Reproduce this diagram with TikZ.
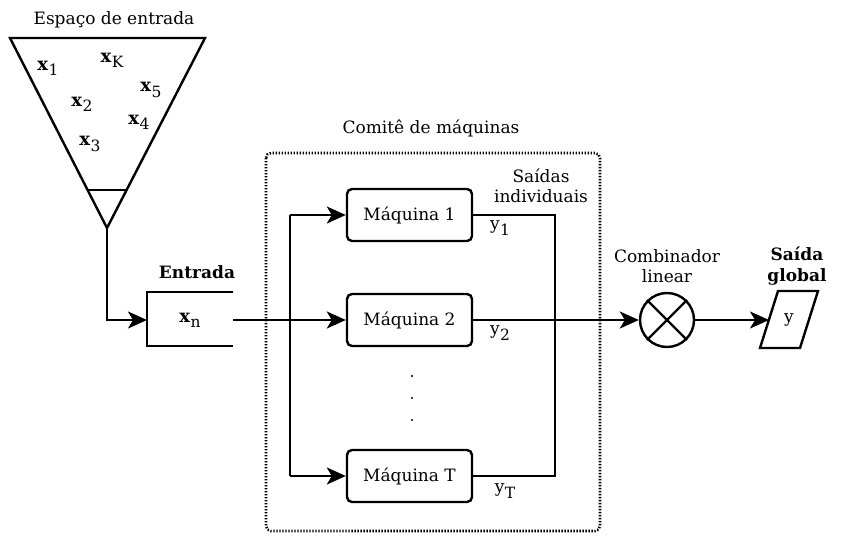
\documentclass[tikz,border=0pt]{standalone}
\usepackage{fontspec}
\setmainfont{DejaVu Serif}
\usetikzlibrary{arrows.meta}
\newcommand{\xv}[1]{{\fontsize{18}{20}\selectfont\textbf{x}}\kern0.5pt\raisebox{-0.6ex}{\fontsize{15.5}{17}\selectfont #1}}
\newcommand{\yv}[1]{y\kern0.5pt\raisebox{-0.6ex}{\fontsize{15.5}{17}\selectfont #1}}
\tikzset{
  lbl/.style={font=\fontsize{17}{20.5}\selectfont, inner sep=0pt},
  mach/.style={draw, line width=2.4pt, rounded corners=5pt, minimum width=125pt, minimum height=52pt, font=\fontsize{17}{20.5}\selectfont, inner sep=0pt},
  wire/.style={line width=2.4pt},
  conn/.style={line width=2.4pt, -{Stealth[length=19pt,width=17pt,inset=5pt]}},
  frame/.style={line width=2.6pt, dash pattern=on 1.4pt off 1.6pt, rounded corners=5pt}
}
\begin{document}
\begin{tikzpicture}[x=1pt,y=-1pt]
\useasboundingbox (0,0) rectangle (848,541);
% input space
\draw[wire, line join=miter] (10,38) -- (205,38) -- (107,228) -- cycle;
\draw[wire] (88,190) -- (126,190);
\coordinate (apex) at (107,228);
\node[lbl] (espaco) at (114,20) {Espaço de entrada};
\node[lbl] (x1) at (48,68) {\xv{1}};
\node[lbl] (xK) at (112,60) {\xv{K}};
\node[lbl] (x5) at (151,90) {\xv{5}};
\node[lbl] (x2) at (82,104) {\xv{2}};
\node[lbl] (x4) at (139,122) {\xv{4}};
\node[lbl] (x3) at (90,144) {\xv{3}};
% entrada
\draw[wire] (233,292) -- (147,292) -- (147,346) -- (233,346);
\coordinate (entL) at (147,320);
\coordinate (entR) at (233,320);
\node[lbl, font=\fontsize{17}{20.5}\selectfont\bfseries] (entrada) at (197,272) {Entrada};
\node[lbl] (xn) at (190,320) {\xv{n}};
\draw[conn] (apex) |- (entL);
% committee
\draw[frame] (266,153) rectangle (600,531);
\node[lbl] (comite) at (431,128) {Comitê de máquinas};
\node[lbl, align=center] (saidas) at (541,186) {Saídas\\individuais};
\node[mach] (m1) at (409.5,215) {Máquina 1};
\node[mach] (m2) at (409.5,320) {Máquina 2};
\node[mach] (mT) at (409.5,476) {Máquina T};
\coordinate (top) at (290,215);
\coordinate (bot) at (290,476);
\coordinate (rtop) at (555,215);
\coordinate (rbot) at (555,476);
\draw[conn] (entR) -- (m2);
\draw[wire] (top) -- (bot);
\draw[conn] (top) -- (m1);
\draw[conn] (bot) -- (mT);
\draw[wire] (m1.east) -- (rtop) -- (rbot) -- (mT.east);
\node[lbl] (y1) at (500,228) {\yv{1}};
\node[lbl] (y2) at (500,333) {\yv{2}};
\node[lbl] (yT) at (505,491) {\yv{T}};
\fill (412,376) circle (1.2pt) (412,398) circle (1.2pt) (412,420) circle (1.2pt);
% combiner
\node[draw, circle, line width=2.4pt, minimum size=54pt, inner sep=0pt] (comb) at (667,320) {};
\draw[line width=2.4pt] (comb.north west) -- (comb.south east) (comb.north east) -- (comb.south west);
\node[lbl, align=center] (comblbl) at (667,266) {Combinador\\linear};
\draw[conn] (m2.east) -- (comb.west);
% output
\draw[wire, line join=miter] (778,291) -- (818,291) -- (800,348) -- (760,348) -- cycle;
\coordinate (outL) at (769,320);
\node[lbl] (yout) at (789,320) {y};
\node[lbl, align=center, font=\fontsize{17}{20.5}\selectfont\bfseries] (saidag) at (797,266) {Saída\\global};
\draw[conn] (comb.east) -- (outL);
\end{tikzpicture}
\end{document}
